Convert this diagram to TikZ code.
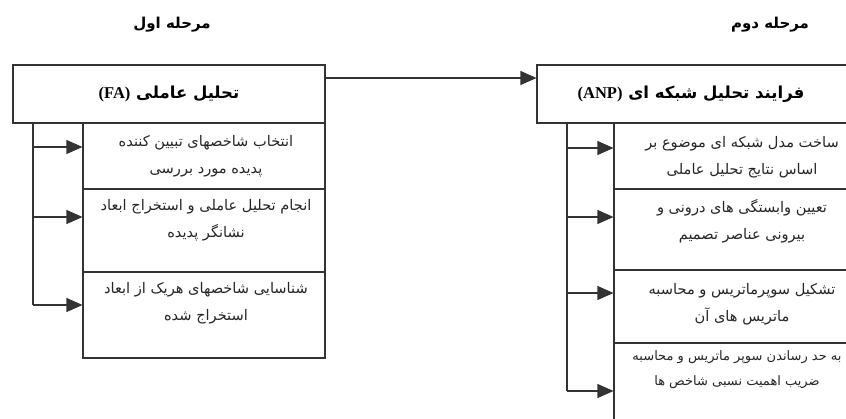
\documentclass[tikz,border=0pt]{standalone}
\usepackage{fontspec}
\newfontfamily\arabicfont[Script=Arabic]{DejaVu Sans}
\newfontfamily\latinserif{Liberation Serif}
\TeXXeTstate=1
\usetikzlibrary{arrows.meta}

\newcommand{\rtltext}[1]{\beginR#1\endR}

\tikzset{
  box/.style={draw=black!80, line width=1.1pt, inner sep=0pt},
  hdr/.style={align=center, font=\arabicfont\bfseries\fontsize{16.5}{19}\selectfont},
  ttl/.style={align=center, font=\arabicfont\bfseries\fontsize{15}{18}\selectfont},
  txt/.style={align=center, text=black!85, font=\arabicfont\fontsize{14.6}{27}\selectfont},
  arr/.style={draw=black!80, line width=1.1pt, -{Triangle[length=16pt,width=14pt]}},
  trunk/.style={draw=black!80, line width=1.1pt},
}

\begin{document}
\begin{tikzpicture}[x=1pt,y=-1pt]
\useasboundingbox (0,0) rectangle (846,418);
\clip (0,0) rectangle (846,418);

% stage titles
\node[ttl] (title1) at (172,25) {\rtltext{مرحله اول}};
\node[ttl] (title2) at (770,25) {\rtltext{مرحله دوم}};

% stage one: FA
\node[box, minimum width=312pt, minimum height=58pt, hdr] (fa) at (169,94)
  {\rtltext{تحلیل عاملی \beginL{\latinserif\bfseries (FA)}\endL}};
\node[box, minimum width=242pt, minimum height=66pt] (b1) at (204,156) {};
\node[box, minimum width=242pt, minimum height=83pt] (b2) at (204,230.5) {};
\node[box, minimum width=242pt, minimum height=86pt] (b3) at (204,315) {};
\node[txt] (b1txt) at (206,156) {\rtltext{انتخاب شاخصهای تبیین کننده}\\\rtltext{پدیده مورد بررسی}};
\node[txt] (b2txt) at (206,220) {\rtltext{انجام تحلیل عاملی و استخراج ابعاد}\\\rtltext{نشانگر پدیده}};
\node[txt] (b3txt) at (206,303) {\rtltext{شناسایی شاخصهای هریک از ابعاد}\\\rtltext{استخراج شده}};

\coordinate (ltop) at (33,123);
\foreach \i/\y in {1/147,2/217,3/305}{
  \coordinate (lj\i) at (33,\y);
  \draw[arr] (lj\i) -- (lj\i -| b\i.west);
}
\draw[trunk] (ltop) -- (lj3);

% stage two: ANP
\node[box, minimum width=320pt, minimum height=58pt] (anp) at (697,94) {};
\node[hdr] (anptxt) at (691,94)
  {\rtltext{فرایند تحلیل شبکه ای \beginL{\latinserif\bfseries (ANP)}\endL}};
\node[box, minimum width=250pt, minimum height=66pt] (r1) at (739,156) {};
\node[box, minimum width=250pt, minimum height=81pt] (r2) at (739,229.5) {};
\node[box, minimum width=250pt, minimum height=73pt] (r3) at (739,306.5) {};
\node[box, minimum width=250pt, minimum height=100pt] (r4) at (739,393) {};
\node[txt] (r1txt) at (742,157) {\rtltext{ساخت مدل شبکه ای موضوع بر}\\\rtltext{اساس نتایج تحلیل عاملی}};
\node[txt] (r2txt) at (742,221) {\rtltext{تعیین وابستگی های درونی و}\\\rtltext{بیرونی عناصر تصمیم}};
\node[txt] (r3txt) at (742,304) {\rtltext{تشکیل سوپرماتریس و محاسبه}\\\rtltext{ماتریس های آن}};
\node[txt, font=\arabicfont\fontsize{13}{25}\selectfont] (r4txt) at (737,370) {\rtltext{به حد رساندن سوپر ماتریس و محاسبه}\\\rtltext{ضریب اهمیت نسبی شاخص ها}};

\coordinate (rtop) at (567,123);
\foreach \i/\y in {1/148,2/217,3/293,4/391}{
  \coordinate (rj\i) at (567,\y);
  \draw[arr] (rj\i) -- (rj\i -| r\i.west);
}
\draw[trunk] (rtop) -- (rj4);

% link between the stages
\coordinate (link) at (fa.east |- 0,78);
\draw[arr] (link) -- (link -| anp.west);
\end{tikzpicture}
\end{document}
